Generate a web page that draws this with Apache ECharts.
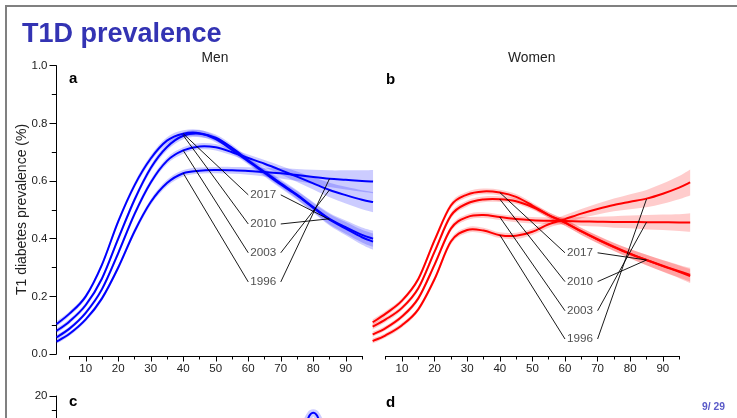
<!DOCTYPE html>
<html><head><meta charset="utf-8">
<script src="https://cdn.jsdelivr.net/npm/echarts@6/dist/echarts.min.js"></script>
<style>html,body{margin:0;padding:0;background:#fff}#c{width:737px;height:418px}</style>
</head><body><div id="c"></div>
<script>
// ---------- data ----------
const ages = [1,5,10,15,20,25,30,35,40,45,50,55,60,65,70,75,80,85,90,95,98.4];
const years = ['2017','2010','2003','1996'];

// Men (panel a) prevalence, %
const men2017 = [0.104,0.14,0.20,0.31,0.46,0.585,0.678,0.74,0.764,0.766,0.745,0.708,0.668,0.628,0.588,0.55,0.507,0.466,0.435,0.405,0.39];
const men2010 = [0.080,0.113,0.17,0.262,0.40,0.535,0.645,0.718,0.757,0.764,0.75,0.715,0.672,0.632,0.592,0.553,0.51,0.469,0.44,0.413,0.40];
const men2003 = [0.058,0.088,0.143,0.225,0.35,0.485,0.595,0.67,0.706,0.72,0.717,0.70,0.68,0.66,0.638,0.615,0.592,0.569,0.551,0.535,0.527];
const men1996 = [0.043,0.07,0.12,0.193,0.30,0.425,0.527,0.593,0.627,0.636,0.638,0.637,0.635,0.631,0.627,0.621,0.614,0.608,0.604,0.600,0.598];
// Men confidence half-widths
const menCI2017 = [0.009,0.008,0.008,0.008,0.009,0.01,0.011,0.012,0.012,0.012,0.011,0.011,0.011,0.012,0.013,0.015,0.017,0.02,0.023,0.026,0.028];
const menCI2010 = [0.009,0.008,0.008,0.008,0.009,0.01,0.011,0.012,0.012,0.012,0.011,0.011,0.011,0.012,0.013,0.015,0.017,0.02,0.023,0.026,0.028];
const menCI2003 = [0.008,0.007,0.007,0.008,0.009,0.01,0.01,0.011,0.011,0.011,0.011,0.011,0.012,0.013,0.015,0.018,0.021,0.025,0.029,0.033,0.035];
const menCI1996 = [0.008,0.007,0.007,0.008,0.009,0.01,0.01,0.011,0.011,0.011,0.011,0.012,0.013,0.015,0.018,0.021,0.025,0.029,0.033,0.037,0.04];

// Women (panel b)
const women2017 = [0.11,0.14,0.185,0.26,0.395,0.515,0.553,0.564,0.560,0.545,0.515,0.482,0.456,0.425,0.397,0.371,0.347,0.326,0.306,0.287,0.275];
const women2010 = [0.095,0.12,0.16,0.228,0.355,0.48,0.522,0.536,0.537,0.53,0.51,0.482,0.456,0.426,0.398,0.372,0.348,0.326,0.305,0.285,0.27];
const women2003 = [0.068,0.09,0.13,0.193,0.31,0.435,0.475,0.482,0.475,0.468,0.464,0.462,0.461,0.46,0.459,0.458,0.458,0.457,0.457,0.456,0.456];
const women1996 = [0.045,0.065,0.10,0.155,0.26,0.39,0.43,0.428,0.412,0.41,0.424,0.45,0.468,0.487,0.503,0.517,0.528,0.539,0.556,0.577,0.595];
const womenCI2017 = [0.01,0.009,0.008,0.008,0.009,0.01,0.01,0.01,0.01,0.01,0.01,0.01,0.011,0.012,0.013,0.014,0.016,0.018,0.02,0.022,0.024];
const womenCI2010 = [0.01,0.009,0.008,0.008,0.009,0.01,0.01,0.01,0.01,0.01,0.01,0.01,0.011,0.012,0.013,0.014,0.016,0.018,0.02,0.022,0.024];
const womenCI2003 = [0.009,0.008,0.008,0.008,0.009,0.01,0.01,0.01,0.01,0.011,0.011,0.012,0.013,0.015,0.017,0.02,0.022,0.025,0.027,0.029,0.032];
const womenCI1996 = [0.009,0.008,0.008,0.008,0.009,0.01,0.01,0.01,0.01,0.011,0.011,0.012,0.014,0.016,0.019,0.022,0.026,0.03,0.035,0.04,0.045];

// leader lines / year labels
const leaderAges = [40, 60, 70, 85];
const labelAge = 64.6;
const menLabelY = [0.552,0.451,0.351,0.25];
const menAt40 = [0.764,0.758,0.706,0.627];
const menAt85 = [0.466,0.469,0.569,0.608];
const womenLabelY = [0.351,0.251,0.150,0.052];
const womenAt40 = [0.560,0.537,0.475,0.413];
const womenAt85 = [0.326,0.326,0.457,0.537];

// panel c (partially visible)
const cAges = [77.5,78,78.5,79,79.5,80,80.5,81,81.5,82,82.5];
const cVals = [9.2,11.0,12.4,13.4,14.0,14.2,14.0,13.4,12.4,11.0,9.2];

// ---------- drawing ----------
const FONT = '"Liberation Sans", Arial, Helvetica, sans-serif';
const BLUE = '#0000ff', RED = '#ff0000';
const BLUE_BAND = 'rgba(0,0,255,0.2)', RED_BAND = 'rgba(255,0,0,0.2)';

// Catmull-Rom spline through pixel points -> bezier path commands
function crSeg(p) {
  let d = '';
  const n = p.length;
  for (let i = 0; i < n - 1; i++) {
    const p0 = p[Math.max(i - 1, 0)], p1 = p[i], p2 = p[i + 1], p3 = p[Math.min(i + 2, n - 1)];
    const c1x = p1[0] + (p2[0] - p0[0]) / 6, c1y = p1[1] + (p2[1] - p0[1]) / 6;
    const c2x = p2[0] - (p3[0] - p1[0]) / 6, c2y = p2[1] - (p3[1] - p1[1]) / 6;
    d += ' C' + c1x + ' ' + c1y + ' ' + c2x + ' ' + c2y + ' ' + p2[0] + ' ' + p2[1];
  }
  return d;
}

function bandSeries(ax, vals, hw, color) {
  return {
    type: 'custom', xAxisIndex: ax, yAxisIndex: ax, silent: true, z: 1,
    data: [[ages[0], vals[0]]],
    renderItem: function (params, api) {
      const up = ages.map((a, i) => api.coord([a, vals[i] + hw[i]]));
      const lo = ages.map((a, i) => api.coord([a, vals[i] - hw[i]])).reverse();
      const d = 'M' + up[0][0] + ' ' + up[0][1] + crSeg(up) +
                ' L' + lo[0][0] + ' ' + lo[0][1] + crSeg(lo) + ' Z';
      return { type: 'path', shape: { pathData: d }, style: { fill: color, stroke: null } };
    }
  };
}
function curveSeries(ax, xs, vals, color, width, z) {
  return {
    type: 'custom', xAxisIndex: ax, yAxisIndex: ax, silent: true, z: z || 3,
    data: [[xs[0], vals[0]]],
    renderItem: function (params, api) {
      const pts = xs.map((a, i) => api.coord([a, vals[i]]));
      const d = 'M' + pts[0][0] + ' ' + pts[0][1] + crSeg(pts);
      return { type: 'path', shape: { pathData: d },
        style: { fill: null, stroke: color, lineWidth: width, lineJoin: 'round' } };
    }
  };
}
function leaderSeries(ax, at40, labY, at85) {
  const segs = [];
  for (let k = 0; k < 4; k++) {
    segs.push({ coords: [[leaderAges[0], at40[k]], [leaderAges[1], labY[k]]] });
    segs.push({ coords: [[leaderAges[2], labY[k]], [leaderAges[3], at85[k]]] });
  }
  return {
    type: 'lines', coordinateSystem: 'cartesian2d', xAxisIndex: ax, yAxisIndex: ax, z: 4, silent: true,
    data: segs, symbol: 'none', lineStyle: { color: '#000', width: 0.9, opacity: 1, curveness: 0 }
  };
}
function labelSeries(ax, labY) {
  return {
    type: 'scatter', xAxisIndex: ax, yAxisIndex: ax, z: 5, silent: true, symbolSize: 1,
    itemStyle: { color: 'rgba(0,0,0,0)' },
    data: years.map((y, k) => ({ name: y, value: [labelAge, labY[k]] })),
    label: { show: true, position: 'inside', formatter: '{b}', fontSize: 11.7, color: '#222', fontFamily: FONT }
  };
}

const gridBase = { containLabel: false, outerBoundsMode: 'none' };
const grids = [
  Object.assign({ left: 56.5, top: 65.7, width: 316.55, height: 288.3 }, gridBase),   // 0 panel a data
  Object.assign({ left: 69.5, top: 65.7, width: 292.5, height: 290.3 }, gridBase),    // 1 panel a minor ticks
  Object.assign({ left: 85.75, top: 65.7, width: 260, height: 290.3 }, gridBase),     // 2 panel a major ticks
  Object.assign({ left: 372.66, top: 65.7, width: 317.52, height: 288.3 }, gridBase), // 3 panel b data
  Object.assign({ left: 385.7, top: 65.7, width: 293.4, height: 290.3 }, gridBase),   // 4 panel b minor
  Object.assign({ left: 402.0, top: 65.7, width: 260.8, height: 290.3 }, gridBase),   // 5 panel b major
  Object.assign({ left: 56.5, top: 396, width: 316.55, height: 57.4 }, gridBase)      // 6 panel c
];

const axisLineStyle = { color: '#000', width: 1 };
function hiddenX(gi) { return { gridIndex: gi, type: 'value', min: 1, max: 98.4, show: false }; }
function hiddenY(gi) { return { gridIndex: gi, type: 'value', min: 0, max: 1, show: false }; }
function minorX(gi) {
  return { gridIndex: gi, type: 'value', min: 5, max: 95, interval: 5, position: 'bottom',
    axisLine: { show: true, onZero: false, lineStyle: axisLineStyle },
    axisTick: { show: true, length: 3.5, lineStyle: axisLineStyle },
    axisLabel: { show: false }, splitLine: { show: false } };
}
function majorX(gi) {
  return { gridIndex: gi, type: 'value', min: 10, max: 90, interval: 10, position: 'bottom',
    axisLine: { show: true, onZero: false, lineStyle: axisLineStyle },
    axisTick: { show: true, length: 5.5, lineStyle: axisLineStyle },
    axisLabel: { show: true, fontSize: 11.5, color: '#222', fontFamily: FONT, margin: 7 },
    splitLine: { show: false } };
}

const xAxes = [hiddenX(0), minorX(1), majorX(2), hiddenX(3), minorX(4), majorX(5), hiddenX(6)];
const yAxes = [
  { gridIndex: 0, type: 'value', min: 0, max: 1, interval: 0.2, position: 'left',
    axisLine: { show: true, onZero: false, lineStyle: axisLineStyle },
    axisTick: { show: true, length: 7, lineStyle: axisLineStyle },
    minorTick: { show: true, splitNumber: 2, length: 4.7, lineStyle: axisLineStyle },
    splitLine: { show: false }, minorSplitLine: { show: false },
    axisLabel: { formatter: v => v.toFixed(1), fontSize: 11.5, color: '#222', fontFamily: FONT, margin: 9 } },
  hiddenY(1), hiddenY(2), hiddenY(3), hiddenY(4), hiddenY(5),
  { gridIndex: 6, type: 'value', min: 0, max: 20, interval: 10, position: 'left',
    axisLine: { show: true, onZero: false, lineStyle: axisLineStyle },
    axisTick: { show: true, length: 7, lineStyle: axisLineStyle },
    minorTick: { show: true, splitNumber: 2, length: 4.7, lineStyle: axisLineStyle },
    splitLine: { show: false }, minorSplitLine: { show: false },
    axisLabel: { fontSize: 11.5, color: '#222', fontFamily: FONT, margin: 9 } }
];

const menVals = [men2017, men2010, men2003, men1996];
const menCI = [menCI2017, menCI2010, menCI2003, menCI1996];
const womenVals = [women2017, women2010, women2003, women1996];
const womenCI = [womenCI2017, womenCI2010, womenCI2003, womenCI1996];

const series = [];
for (let k = 3; k >= 0; k--) series.push(bandSeries(0, menVals[k], menCI[k], BLUE_BAND));
for (let k = 3; k >= 0; k--) series.push(bandSeries(3, womenVals[k], womenCI[k], RED_BAND));
for (let k = 3; k >= 0; k--) series.push(curveSeries(0, ages, menVals[k], BLUE, 2));
for (let k = 3; k >= 0; k--) series.push(curveSeries(3, ages, womenVals[k], RED, 2));
series.push(leaderSeries(0, menAt40, menLabelY, menAt85));
series.push(leaderSeries(3, womenAt40, womenLabelY, womenAt85));
series.push(labelSeries(0, menLabelY));
series.push(labelSeries(3, womenLabelY));
// panel c partial curve
series.push(curveSeries(6, cAges, cVals, 'rgba(0,0,255,0.2)', 7, 2));
series.push(curveSeries(6, cAges, cVals, BLUE, 2, 3));

function txt(text, x, y, font, fill, align, extra) {
  return Object.assign({ type: 'text', x: x, y: y, silent: true,
    style: { text: text, font: font, fill: fill, align: align || 'left', verticalAlign: 'middle' } }, extra || {});
}

const graphics = [
  { type: 'rect', silent: true, shape: { x: 6, y: 6, width: 780, height: 460 },
    style: { fill: 'none', stroke: '#808080', lineWidth: 2 } },
  txt('T1D prevalence', 22, 34.6, 'bold 27px ' + FONT, '#3333b3'),
  txt('Men', 215, 58.5, '13.8px ' + FONT, '#222', 'center'),
  txt('Women', 531.7, 58.5, '13.8px ' + FONT, '#222', 'center'),
  txt('a', 69, 79, 'bold 15px ' + FONT, '#000'),
  txt('b', 386, 79.8, 'bold 15px ' + FONT, '#000'),
  txt('c', 69, 401.8, 'bold 15px ' + FONT, '#000'),
  txt('d', 386, 403, 'bold 15px ' + FONT, '#000'),
  txt('T1 diabetes prevalence (%)', 21.85, 209.5, '14px ' + FONT, '#222', 'center', { rotation: Math.PI / 2 }),
  txt('9/ 29', 725, 407.1, 'bold 10.3px ' + FONT, '#5a5ac8', 'right')
];

const chart = echarts.init(document.getElementById('c'), null, { renderer: 'canvas' });
chart.setOption({
  animation: false,
  backgroundColor: '#fff',
  grid: grids,
  xAxis: xAxes,
  yAxis: yAxes,
  series: series,
  graphic: graphics
});
</script>
</body></html>
